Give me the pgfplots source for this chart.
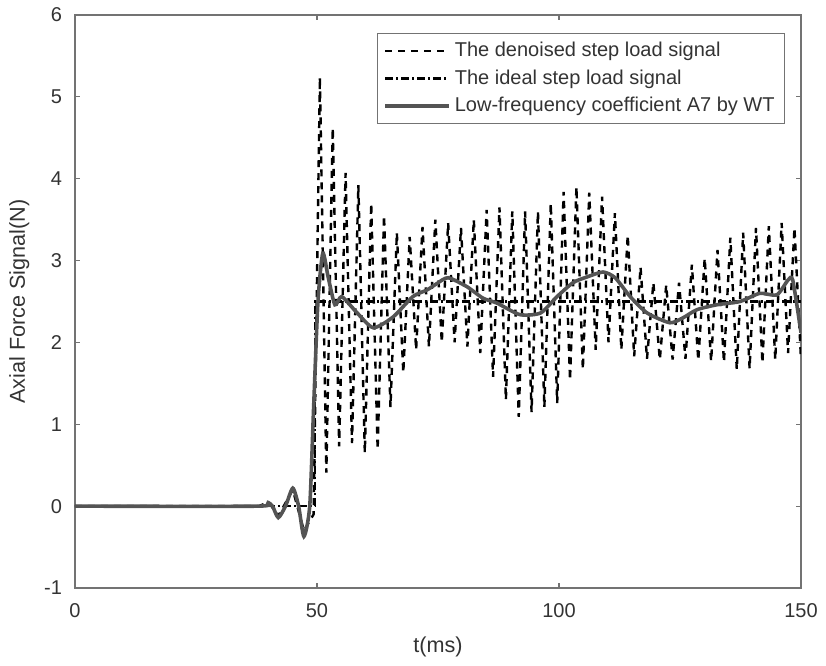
\documentclass[border=0pt]{standalone}
\usepackage{pgfplots}
\pgfplotsset{compat=1.18}
\usetikzlibrary{calc}
\usepackage{fontspec}
\setmainfont{Liberation Sans}
\definecolor{axgray}{gray}{0.45}
\definecolor{txtgray}{gray}{0.2}
\definecolor{a7gray}{gray}{0.33}
\begin{document}
\begin{tikzpicture}
\begin{axis}[
  scale only axis,
  width=363pt, height=286.5pt,
  xmin=0, xmax=150, ymin=-1, ymax=6,
  xtick={0,50,100,150}, ytick={-1,0,...,6},
  tick align=inside, major tick length=2.5pt,
  axis line style={axgray, line width=0.6pt},
  tick style={axgray, line width=0.6pt},
  ticklabel style={font=\fontsize{10}{12}\selectfont, text=txtgray},
  xticklabel style={yshift=-4pt},
  yticklabel style={xshift=-3pt},
  /pgf/number format/assume math mode=true,
  xlabel={t(ms)}, ylabel={Axial Force Signal(N)},
  label style={font=\fontsize{10.8}{13}\selectfont, text=txtgray},
  xlabel style={yshift=-3pt},
  ylabel style={yshift=0.5pt},
  legend style={at={(0.978,0.969)}, anchor=north east, draw=axgray,
    font=\fontsize{10}{12}\selectfont, text=txtgray, row sep=1pt,
    inner xsep=3pt, inner ysep=2.5pt},
  legend cell align=left,
  legend image code/.code={\draw[#1] (0cm,0cm) -- (32pt,0cm);},
]
\addplot[black, line width=1.2pt, dash pattern=on 3.5pt off 3pt] coordinates {
(0,0) (38,0) (40,0.05) (42,-0.12) (45,0.2) (47.3,-0.3) (49.3,-0.1) (50.6,5.24) (51.93,0.41) (53.25,4.62) (54.58,0.73) (55.9,4.07) (57.23,0.77) (58.55,3.92) (59.88,0.65) (61.2,3.70) (62.53,0.69) (63.85,3.55) (65.18,1.21) (66.5,3.34) (67.83,1.63) (69.15,3.29) (70.48,1.91) (71.8,3.41) (73.13,1.95) (74.45,3.50) (75.78,2.0) (77.1,3.46) (78.43,2.0) (79.75,3.40) (81.08,1.95) (82.4,3.50) (83.73,1.87) (85.05,3.62) (86.38,1.58) (87.7,3.65) (89.03,1.30) (90.35,3.60) (91.68,1.09) (93.0,3.60) (94.33,1.15) (95.65,3.60) (96.98,1.21) (98.3,3.70) (99.63,1.26) (100.95,3.84) (102.28,1.54) (103.6,3.90) (104.93,1.67) (106.25,3.83) (107.58,1.91) (108.9,3.78) (110.23,2.0) (111.55,3.58) (112.88,1.91) (114.2,3.31) (115.53,1.83) (116.85,2.92) (118.18,1.80) (119.5,2.73) (120.83,1.79) (122.15,2.70) (123.48,1.79) (124.8,2.73) (126.13,1.80) (127.45,2.95) (128.78,1.78) (130.1,3.03) (131.43,1.77) (132.75,3.13) (134.08,1.76) (135.4,3.28) (136.73,1.67) (138.05,3.34) (139.38,1.68) (140.7,3.40) (142.03,1.75) (143.35,3.42) (144.68,1.79) (146.0,3.46) (147.33,1.87) (148.65,3.40) (150,1.79)
};
\addplot[black, line width=1.2pt, dash pattern=on 4pt off 1.5pt on 1pt off 1.5pt] coordinates {
(0,0) (49.6,0) (49.6,2.5) (150,2.5)
};
\addplot[a7gray, line width=1.8pt, smooth, tension=0.4] coordinates {
(0,0) (38,0) (39.6,0.05) (40.8,0) (42,-0.14) (43.5,0.0) (45,0.22) (46.2,0) (47.3,-0.37) (48.5,0) (49.3,1.2) (50.2,2.5) (51.2,3.09) (52.3,2.8) (53.7,2.46) (55.1,2.56) (58,2.38) (61.6,2.18) (65.7,2.31) (69.8,2.56) (72.7,2.64) (74.8,2.72) (77.1,2.79) (81,2.68) (84.3,2.54) (87.2,2.48) (91.9,2.34) (96.2,2.36) (99.6,2.56) (102.9,2.73) (105.8,2.8) (109.1,2.86) (111.6,2.79) (114.7,2.56) (118.2,2.36) (122.9,2.24) (125.6,2.3) (128.5,2.4) (132.6,2.46) (137.4,2.5) (141.5,2.6) (145,2.58) (147.3,2.76) (148.3,2.76) (150,2.12)
};
\legend{The denoised step load signal, The ideal step load signal, Low-frequency coefficient A7 by WT}
\end{axis}
\path (current axis.south west) ++(-37.5pt,-39pt) rectangle ($(current axis.north east)+(12.5pt,7.5pt)$);
\end{tikzpicture}
\end{document}
